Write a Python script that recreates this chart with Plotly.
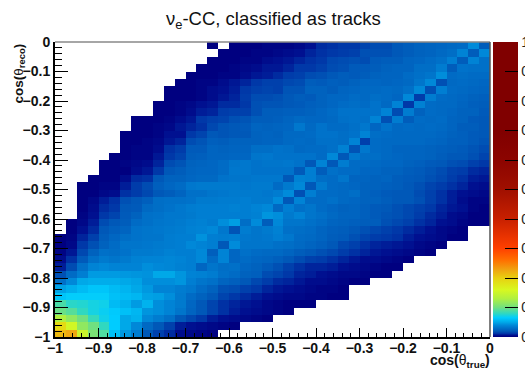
import plotly.graph_objects as go

N = None
# First filled bin of each row, top row (cos reco near 0) first
row_start = [14,15,14,13,12,11,10,10,9,9,7,7,6,6,6,5,4,4,3,2,2,2,2,2,1,1,0,0,0,0,0,0,0,0,0,0,0,0,0,0]
# Bin contents in units of 1/1000, top row first
row_values = [
 [2,N,2,2,2,3,3,3,4,6,10,11,12,12,15,17,17,20,22,24,25,26,27,28,41,22],
 [2,2,2,3,3,4,5,6,9,11,12,13,14,18,18,18,20,22,24,25,27,29,38,22,40],
 [2,2,2,3,3,5,6,7,9,11,12,16,17,18,17,21,22,22,25,26,28,30,36,22,38,30],
 [2,2,2,3,4,5,7,7,9,12,12,14,17,18,21,21,22,24,25,25,29,29,35,22,31,30,30],
 [2,2,2,3,3,5,7,8,10,13,14,17,18,20,22,21,22,24,25,25,28,30,32,42,28,29,28,28],
 [2,2,3,3,5,7,9,12,14,14,16,17,22,21,23,22,24,26,26,25,26,27,32,40,18,27,28,27,26],
 [2,2,2,3,5,6,8,12,14,15,14,19,19,24,24,22,25,26,27,27,28,27,30,40,18,36,28,27,26,25],
 [2,2,2,3,5,7,9,13,17,17,18,20,22,21,24,26,26,28,27,29,28,26,40,13,35,28,27,26,24,23],
 [2,2,3,4,6,7,10,10,12,18,19,19,20,21,23,24,26,28,29,28,31,27,38,12,37,28,27,27,25,23,22],
 [2,2,3,5,8,9,13,14,14,18,22,22,23,23,24,26,28,31,31,31,31,38,17,35,24,28,27,26,24,24,21],
 [2,2,2,3,5,7,12,14,15,18,19,22,22,23,25,27,26,26,27,30,31,30,38,18,35,22,28,27,28,25,24,21,20],
 [2,2,3,4,7,9,11,16,19,20,21,25,24,25,26,33,27,31,28,28,30,33,26,31,27,28,27,28,27,25,22,22,20],
 [2,2,2,3,6,6,12,15,20,19,20,20,24,25,24,27,27,28,31,31,29,31,38,29,28,27,27,27,27,26,24,23,21,20],
 [2,2,3,4,7,9,17,19,23,22,24,24,24,25,25,27,28,27,30,30,29,38,14,28,27,27,27,27,26,25,23,23,21,19],
 [2,3,3,5,11,13,21,21,25,24,25,25,29,29,31,30,27,28,28,30,37,19,33,28,27,25,25,25,24,23,22,21,19,17],
 [2,2,3,3,7,12,15,22,23,25,25,26,26,32,33,31,31,31,31,28,40,20,33,29,29,27,26,25,25,24,22,20,20,18,15],
 [2,2,3,4,5,9,17,19,24,25,26,28,32,33,31,32,32,33,31,20,38,20,35,28,28,27,26,26,24,23,21,20,18,17,14,12],
 [2,2,2,5,7,12,20,22,25,26,26,28,33,33,31,31,31,31,21,36,22,30,28,28,26,26,24,24,22,21,19,17,14,13,10,9],
 [2,2,2,5,10,11,20,24,24,26,27,27,31,32,32,33,33,33,20,37,36,29,28,32,25,25,24,25,22,21,20,18,16,13,11,8,7],
 [2,2,3,3,8,13,17,23,26,28,33,34,34,34,34,33,34,34,28,34,40,20,34,28,27,26,24,24,23,22,20,18,15,13,11,9,6,5],
 [2,2,4,5,11,13,16,20,22,25,30,30,32,33,34,34,34,33,35,41,18,36,28,28,27,29,24,23,21,20,20,17,14,11,8,6,5,4],
 [2,4,8,11,18,20,23,29,30,30,31,34,34,35,35,36,34,34,41,20,38,28,28,30,27,26,24,24,22,20,20,18,14,11,8,5,3,3],
 [2,5,10,12,20,21,27,29,31,33,35,36,36,36,37,36,38,40,27,36,30,32,28,26,24,25,23,21,20,18,16,14,12,9,7,6,3,2],
 [3,6,12,15,21,24,30,31,33,33,34,36,36,36,36,36,37,44,42,34,38,32,30,27,25,25,23,21,19,18,16,13,10,8,5,4,2,2],
 [2,4,8,17,20,22,28,30,32,33,34,36,37,35,42,47,29,41,22,40,32,32,30,28,25,24,23,22,22,18,16,14,11,9,6,5,3,2,2],
 [2,6,10,20,23,25,31,32,33,34,35,37,38,40,33,19,35,32,34,37,30,29,28,25,23,22,20,18,16,14,12,10,8,6,4,3,2],
 [2,3,9,14,22,26,29,31,32,32,35,36,36,43,36,35,36,33,32,33,36,33,28,27,25,22,21,18,15,13,12,11,8,6,5,4,2,2],
 [2,4,12,18,24,28,32,32,33,34,35,36,40,38,36,20,41,32,32,32,30,29,27,25,23,20,16,14,11,9,8,7,6,4,3,2],
 [3,7,16,24,30,29,31,34,34,35,37,36,36,40,23,38,26,30,28,27,27,25,22,20,18,16,13,11,9,7,6,5,4,3,2],
 [5,11,21,30,34,32,34,37,38,38,39,38,36,40,28,38,26,28,26,25,23,20,17,14,13,11,9,7,5,5,4,3,2],
 [8,17,30,38,40,38,38,38,42,40,39,37,36,26,32,29,30,26,24,21,18,14,11,9,9,8,6,5,4,3,2,2],
 [18,28,36,46,46,46,45,44,43,50,50,44,38,37,35,30,28,24,23,17,15,12,9,8,6,5,4,4,3,2,2],
 [30,40,50,52,52,52,50,48,42,42,42,44,36,32,30,25,23,20,16,13,10,9,7,5,5,4,3,2,2],
 [48,53,58,62,62,58,55,50,45,38,38,35,33,28,24,18,17,14,12,9,7,6,5,4,3,3,2],
 [62,66,66,66,66,60,58,56,48,47,42,34,28,24,20,15,12,10,8,6,5,4,4,3,3,2,2],
 [88,78,76,72,70,58,54,46,54,42,38,34,26,20,15,11,9,7,6,4,3,2,2,2],
 [98,92,80,72,68,64,60,56,44,42,38,32,25,20,15,11,8,6,5,4,3,2],
 [130,115,100,82,70,65,50,54,40,35,30,20,16,12,8,6,5,4,3,2],
 [190,155,115,100,80,65,50,40,27,20,14,8,6,5,4,3,2],
 [215,225,150,105,90,60,45,35,20,14,10,5,4,3,2],
]
tick_vals = [-1, -0.9, -0.8, -0.7, -0.6, -0.5, -0.4, -0.3, -0.2, -0.1, 0]
tick_text = ["\u22121", "\u22120.9", "\u22120.8", "\u22120.7", "\u22120.6", "\u22120.5",
             "\u22120.4", "\u22120.3", "\u22120.2", "\u22120.1", "0"]
bar_vals = [0, 0.1, 0.2, 0.3, 0.4, 0.5, 0.6, 0.7, 0.8, 0.9, 1]
bar_text = ["0", "0.1", "0.2", "0.3", "0.4", "0.5", "0.6", "0.7", "0.8", "0.9", "1"]
bin_edges = [round(-1 + i * 0.025, 3) for i in range(41)]

colorscale = [
    [0, "#000080"], [0.002, "#000080"], [0.006, "#001090"], [0.012, "#0038a8"],
    [0.02, "#0058b8"], [0.03, "#0070c8"], [0.04, "#0088d8"], [0.05, "#00a8e8"],
    [0.065, "#00ccff"], [0.08, "#30d8c0"],
    [0.1, "#70e080"], [0.13, "#b0f040"], [0.16, "#d8f820"], [0.2, "#e8d010"],
    [0.23, "#f0a010"], [0.26, "#ff7000"], [0.3, "#ff4000"], [0.4, "#c82000"],
    [0.5, "#a01000"], [0.6, "#8c0400"], [0.7, "#800000"], [1, "#800000"],
]

z = []
for start, vals in zip(reversed(row_start), reversed(row_values)):
    cells = [None] * start + [None if v is None else v / 1000 for v in vals]
    z.append(cells + [None] * (40 - len(cells)))

FONT = "Liberation Sans"
fig = go.Figure(go.Heatmap(
    x=bin_edges, y=bin_edges, z=z, zmin=0, zmax=1, colorscale=colorscale,
    hoverongaps=False,
    colorbar=dict(
        xref="container", x=493 / 525, xanchor="left", xpad=0, ypad=0,
        yref="paper", y=0, yanchor="bottom", len=1, lenmode="fraction",
        thickness=25, thicknessmode="pixels", outlinewidth=0,
        tickmode="array", tickvals=bar_vals, ticktext=bar_text,
        ticks="inside", ticklen=13, tickwidth=1, tickcolor="#000000",
        tickfont=dict(family=FONT, size=14, color="#222222"),
    ),
))


def axis(minor_len, major_len, standoff):
    return dict(
        range=[-1, 0], tickmode="array", tickvals=tick_vals, ticktext=tick_text,
        ticks="inside", ticklen=major_len, tickwidth=1, tickcolor="#000000",
        minor=dict(dtick=0.02, tick0=0, ticks="inside", ticklen=minor_len,
                   tickwidth=1, tickcolor="#000000", showgrid=False),
        showgrid=False, zeroline=False, showline=True, linewidth=2, linecolor="#000000",
        ticklabelstandoff=standoff,
        tickfont=dict(family=FONT, size=14, color="#111111", weight="bold"),
    )


fig.update_layout(
    width=525, height=371, autosize=False,
    margin=dict(l=55, r=35, t=42, b=34, autoexpand=False),
    paper_bgcolor="#ffffff", plot_bgcolor="#ffffff",
    xaxis=axis(4, 9, -3), yaxis=axis(7, 13, 0),
    annotations=[
        dict(text="\u03bd<sub>e</sub>-CC, classified as tracks", xref="paper", yref="paper",
             x=0.502, y=1, yshift=8, xanchor="center", yanchor="bottom", showarrow=False,
             font=dict(family=FONT, size=18.5, color="#111111")),
        dict(text="<b>cos(</b>\u03b8<sub><b>true</b></sub><b>)</b>", xref="paper", yref="paper",
             x=1, y=0, yshift=-13, xshift=2, xanchor="right", yanchor="top", showarrow=False,
             font=dict(family=FONT, size=14, color="#111111")),
        dict(text="<b>cos(</b>\u03b8<sub><b>reco</b></sub><b>)</b>", xref="paper", yref="paper",
             x=0, y=1, xshift=-26, xanchor="right", yanchor="top", textangle=-90, showarrow=False,
             font=dict(family=FONT, size=13.5, color="#111111")),
    ],
    shapes=[
        dict(type="line", xref="paper", yref="paper", x0=0, x1=1, y0=1, y1=1,
             line=dict(color="#888888", width=1.5)),
        dict(type="line", xref="paper", yref="paper", x0=1, x1=1, y0=0, y1=1,
             line=dict(color="#555555", width=1.5)),
    ],
)
fig.write_html("out.html", config=dict(displayModeBar=False),
               post_script="document.body.style.margin='0';")
